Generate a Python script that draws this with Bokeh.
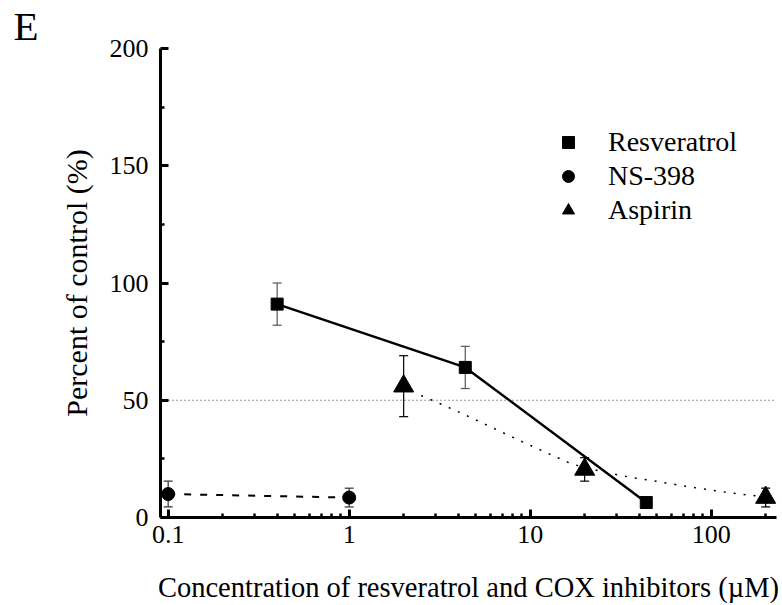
from bokeh.embed import file_html
from bokeh.models import (ColumnDataSource, FixedTicker, Legend, LegendItem,
                          Span, TeeHead, Title, Whisker)
from bokeh.plotting import figure
from bokeh.resources import INLINE

# ---- data -----------------------------------------------------------------
resv_conc = [0.4, 4.38, 43.8]            # µM
resv_pct = [91, 64, 6.4]
resv_err = [9, 9, 1]

ns_conc = [0.1, 1]
ns_pct = [10, 8.5]
ns_err = [5.5, 4]

asp_conc = [2, 20, 200]
asp_pct = [56, 20.5, 8.5]
asp_err = [13, 5, 4]

# fitted dose-response curve for aspirin (dotted)
asp_fit_conc = [2.5, 3.3, 4.3, 6.3, 9, 13, 17, 25, 36, 52, 75, 110, 160, 200]
asp_fit_pct = [52, 48, 44, 38, 32.4, 26.8, 22.8, 19.5, 17.1, 15.2, 13.1, 11.2, 9.6, 8.8]

x_tick_values = [0.1, 1, 10, 100]
x_tick_labels = ["0.1", "1", "10", "100"]
x_minor_ticks = [m * d for d in (0.1, 1, 10) for m in range(2, 10)] + [200]
y_tick_values = [0, 50, 100, 150, 200]
y_minor_ticks = [25, 75, 125, 175]

x_title = "Concentration of resveratrol and COX inhibitors (\u00b5M)"
y_title = "Percent of control (%)"
panel_letter = "E"

FONT = "Liberation Serif"

# ---- figure ---------------------------------------------------------------
p = figure(width=782, height=605, x_axis_type="log",
           x_range=(0.0907, 229.6), y_range=(0, 200),
           min_border_left=160, min_border_right=6,
           min_border_top=45, min_border_bottom=87,
           toolbar_location=None, output_backend="svg",
           title=Title(text=panel_letter, text_font=FONT,
                       text_font_size="41px", text_font_style="normal",
                       text_color="black", align="left", offset=-147,
                       standoff=0))
p.grid.visible = False
p.outline_line_color = None
p.background_fill_color = "white"
p.border_fill_color = "white"

for ax in (p.xaxis[0], p.yaxis[0]):
    ax.axis_line_width = 3
    ax.axis_line_color = "black"
    ax.major_tick_in = 8
    ax.major_tick_out = 0
    ax.minor_tick_in = 4
    ax.minor_tick_out = 0
    ax.major_tick_line_width = 3
    ax.minor_tick_line_width = 2.5
    ax.major_tick_line_color = "black"
    ax.minor_tick_line_color = "black"
    ax.major_label_text_font = FONT
    ax.major_label_text_font_size = "26px"
    ax.major_label_text_color = "black"
    ax.axis_label_text_font = FONT
    ax.axis_label_text_font_style = "normal"
    ax.axis_label_text_color = "black"

p.xaxis.ticker = FixedTicker(ticks=x_tick_values, minor_ticks=x_minor_ticks)
p.xaxis.major_label_overrides = dict(zip(x_tick_values, x_tick_labels))
p.xaxis.major_label_standoff = 8
p.xaxis.axis_label = x_title
p.xaxis.axis_label_text_font_size = "28.5px"
p.xaxis.axis_label_standoff = 26

p.yaxis.ticker = FixedTicker(ticks=y_tick_values, minor_ticks=y_minor_ticks)
p.yaxis.major_label_standoff = 12
p.yaxis.axis_label = y_title
p.yaxis.axis_label_text_font_size = "30px"
p.yaxis.axis_label_standoff = 14

# 50 % reference line
p.add_layout(Span(location=50, dimension="width", line_color="#333333",
                  line_width=1, line_dash="1 3"))

# ---- series ---------------------------------------------------------------
def error_bars(conc, pct, err, color):
    src = ColumnDataSource(dict(
        x=conc,
        lo=[v - e for v, e in zip(pct, err)],
        hi=[v + e for v, e in zip(pct, err)],
    ))
    w = Whisker(source=src, base="x", lower="lo", upper="hi",
                line_color=color, line_width=1.2,
                upper_head=TeeHead(size=9, line_color=color, line_width=1.2),
                lower_head=TeeHead(size=9, line_color=color, line_width=1.2))
    p.add_layout(w)


error_bars(resv_conc, resv_pct, resv_err, "#555555")
error_bars(ns_conc, ns_pct, ns_err, "#333333")
error_bars(asp_conc, asp_pct, asp_err, "black")

p.line(resv_conc, resv_pct, line_color="black", line_width=2.5)
p.line(ns_conc, ns_pct, line_color="black", line_width=2, line_dash="7 9")
p.line(asp_fit_conc, asp_fit_pct, line_color="black", line_width=1.5,
       line_dash="2 8")

r_resv = p.scatter(resv_conc, resv_pct, marker="square", size=12,
                   fill_color="black", line_color="black")
r_ns = p.scatter(ns_conc, ns_pct, marker="circle", size=13,
                 fill_color="black", line_color="black")
r_asp = p.scatter(asp_conc, asp_pct, marker="triangle", size=20,
                  fill_color="black", line_color="black")

legend = Legend(items=[
    LegendItem(label="Resveratrol", renderers=[r_resv]),
    LegendItem(label="NS-398", renderers=[r_ns]),
    LegendItem(label="Aspirin", renderers=[r_asp]),
], location=(393, 290))
legend.label_text_font = FONT
legend.label_text_font_size = "28px"
legend.label_text_color = "black"
legend.glyph_width = 30
legend.glyph_height = 34
legend.label_height = 34
legend.label_standoff = 25
legend.spacing = 0
legend.padding = 0
legend.margin = 0
legend.border_line_color = None
legend.background_fill_alpha = 0
p.add_layout(legend)

open("out.html", "w").write(file_html(p, INLINE))
